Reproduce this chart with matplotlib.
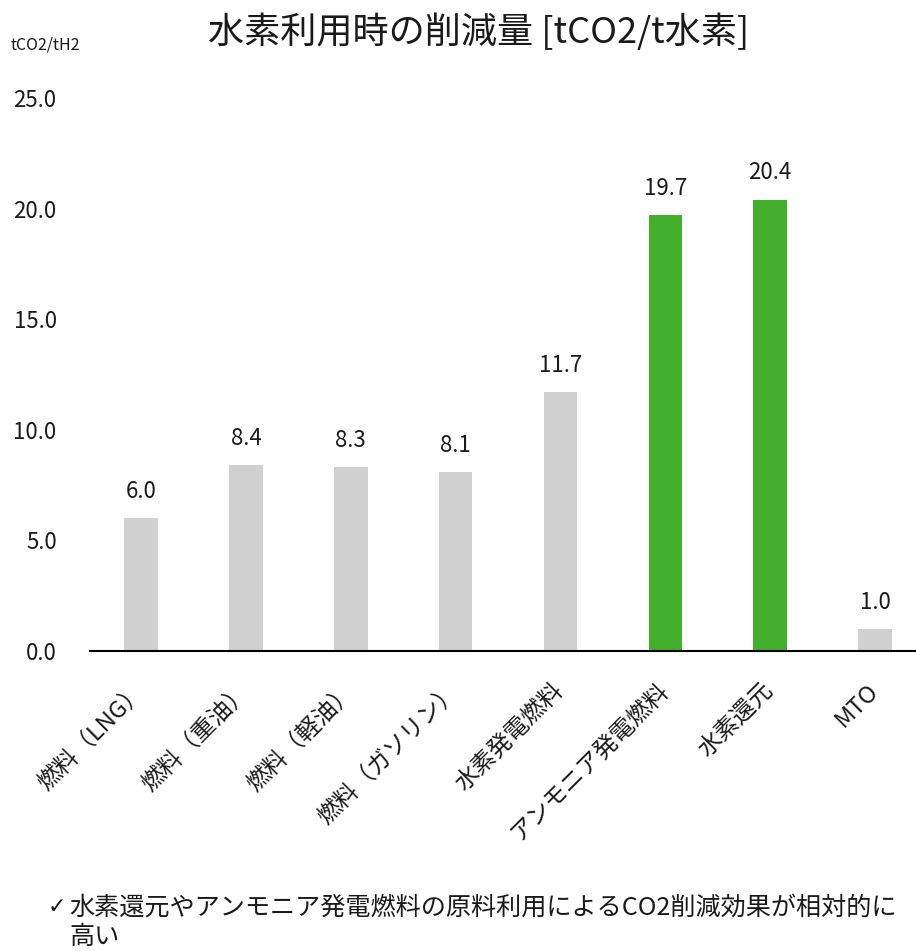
import matplotlib
matplotlib.use("Agg")
import matplotlib.pyplot as plt

plt.rcParams['font.family'] = ['Noto Sans CJK JP', 'DejaVu Sans']

categories = ['燃料（LNG）', '燃料（重油）', '燃料（軽油）', '燃料（ガソリン）',
              '水素発電燃料', 'アンモニア発電燃料', '水素還元', 'MTO']
values = [6.0, 8.4, 8.3, 8.1, 11.7, 19.7, 20.4, 1.0]
highlight = [False, False, False, False, False, True, True, False]
y_ticks = [0, 5, 10, 15, 20, 25]

title = '水素利用時の削減量 [tCO2/t水素]'
unit_label = 'tCO2/tH2'
note_line1 = '水素還元やアンモニア発電燃料の原料利用によるCO2削減効果が相対的に'
note_line2 = '高い'

gray = '#D0D0D0'
green = '#43AF2C'


def main():
    fig = plt.figure(figsize=(9.16, 9.51), dpi=100)
    ax = fig.add_axes([0.0983, 0.3155, 0.9017, 0.5815])

    x = list(range(len(categories)))
    colors = [green if h else gray for h in highlight]
    ax.bar(x, values, width=0.32, color=colors, zorder=2)

    for xi, v in zip(x, values):
        ax.annotate(f'{v:.1f}', (xi, v), xytext=(0, 11), textcoords='offset points',
                    ha='center', va='bottom', fontsize=16, color='#1a1a1a')

    ax.set_xlim(-0.487, 7.39)
    ax.set_ylim(0, 25)
    ax.set_yticks(y_ticks)
    ax.set_yticklabels([f'{t:.1f}' for t in y_ticks], fontsize=16, color='#1a1a1a')
    ax.set_xticks(x)
    ax.set_xticklabels(categories, rotation=45, ha='right', va='center',
                       rotation_mode='anchor', fontsize=17, color='#1a1a1a')
    ax.tick_params(axis='both', length=0)
    ax.tick_params(axis='x', pad=26)
    ax.tick_params(axis='y', pad=24)

    for side in ['top', 'right', 'left']:
        ax.spines[side].set_visible(False)
    ax.spines['bottom'].set_color('black')
    ax.spines['bottom'].set_linewidth(1.5)

    fig.text(0.522, 0.966, title, ha='center', va='center', fontsize=26, color='#1a1a1a')
    fig.text(0.012, 0.953, unit_label, ha='left', va='center', fontsize=11.5, color='#1a1a1a')

    fig.text(0.052, 0.046, '✓', ha='left', va='center', fontsize=16, color='#1a1a1a',
             family=['DejaVu Sans'])
    fig.text(0.076, 0.046, note_line1, ha='left', va='center', fontsize=18.1, color='#1a1a1a')
    fig.text(0.076, 0.015, note_line2, ha='left', va='center', fontsize=18.1, color='#1a1a1a')

    fig.savefig('out.png', dpi=100)


if __name__ == '__main__':
    main()
